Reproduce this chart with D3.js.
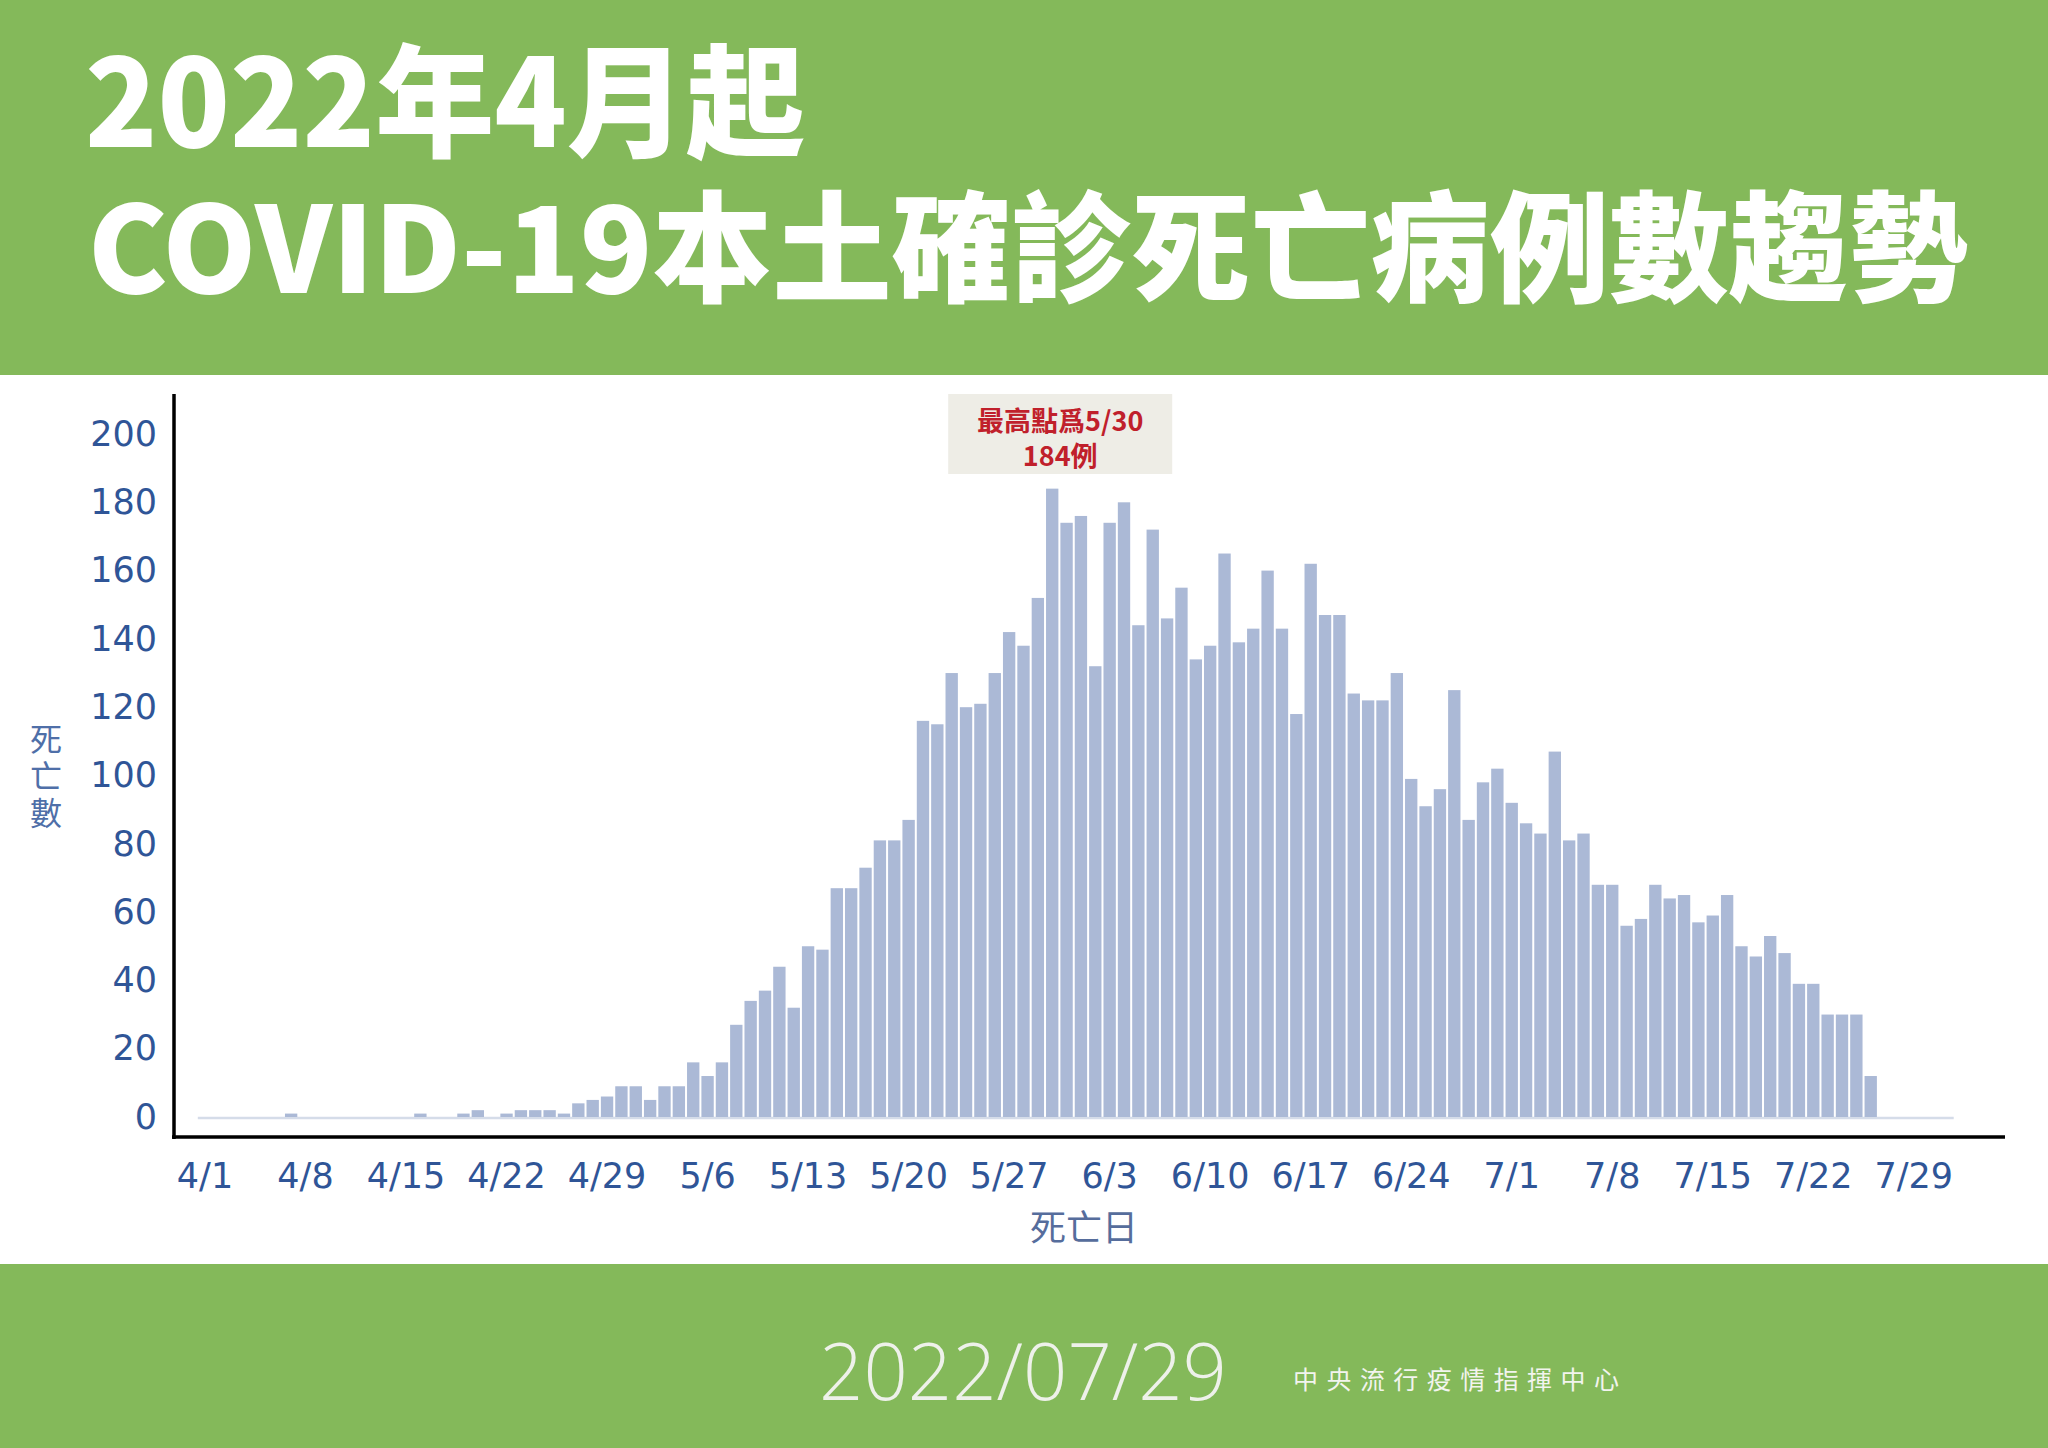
<!DOCTYPE html>
<html><head><meta charset="utf-8">
<script src="https://cdn.jsdelivr.net/npm/d3@7"></script>
<style>html,body{margin:0;padding:0;background:#fff}svg{display:block}</style>
</head><body>
<script>
// ---- data ----
const titleLines = ["2022年4月起", "COVID-19本土確診死亡病例數趨勢"];
const dateStamp = "2022/07/29";
const orgName = "中央流行疫情指揮中心";
const yAxisTitle = "死亡數";
const xAxisTitle = "死亡日";
const annotationLines = ["最高點爲5/30", "184例"];
const peakCategory = "5/30";
const categories = d3.timeDay.range(new Date(2022, 3, 1), new Date(2022, 7, 1))
  .map(d => `${d.getMonth() + 1}/${d.getDate()}`);
const deaths = [
  0,0,0,0,0,0,1,0,0,0,
  0,0,0,0,0,1,0,0,1,2,
  0,1,2,2,2,1,4,5,6,9,
  9,5,9,9,16,12,16,27,34,37,
  44,32,50,49,67,67,73,81,81,87,
  116,115,130,120,121,130,142,138,152,184,
  174,176,132,174,180,144,172,146,155,134,
  138,165,139,143,160,143,118,162,147,147,
  124,122,122,130,99,91,96,125,87,98,
  102,92,86,83,107,81,83,68,68,56,
  58,68,64,65,57,59,65,50,47,53,
  48,39,39,30,30,30,12,0,0,0,
  0,0
];
const yTicks = [0, 20, 40, 60, 80, 100, 120, 140, 160, 180, 200];
const xTickLabels = ["4/1","4/8","4/15","4/22","4/29","5/6","5/13","5/20","5/27","6/3","6/10","6/17","6/24","7/1","7/8","7/15","7/22","7/29"];

// ---- drawing ----
const W = 2048, H = 1448;
const green = "#84b95a";
const svg = d3.select("body").append("svg").attr("width", W).attr("height", H);
svg.append("rect").attr("width", W).attr("height", H).attr("fill", "#fff");

// header band
svg.append("rect").attr("x", 0).attr("y", 0).attr("width", W).attr("height", 375).attr("fill", green);
const titleFont = "'Noto Sans CJK TC','Noto Sans CJK SC',sans-serif";
const title = svg.append("text").attr("font-family", titleFont).attr("font-weight", 900).attr("fill", "#fff");
title.append("tspan").attr("x", 85).attr("y", 147).attr("font-size", 122).text(titleLines[0])
  .attr("textLength", 720).attr("lengthAdjust", "spacingAndGlyphs");
title.append("tspan").attr("x", 88).attr("y", 293).attr("font-size", 120).text(titleLines[1])
  .attr("textLength", 1880).attr("lengthAdjust", "spacingAndGlyphs");

// footer band
svg.append("rect").attr("x", 0).attr("y", 1264).attr("width", W).attr("height", H - 1264).attr("fill", green);
svg.append("text").attr("x", 819).attr("y", 1400).text(dateStamp)
  .attr("font-family", "'Open Sans',sans-serif").attr("font-weight", 300).attr("font-size", 80)
  .attr("fill", "#eef1ea").attr("textLength", 408).attr("lengthAdjust", "spacingAndGlyphs");
svg.append("text").attr("x", 1293).attr("y", 1389).text(orgName)
  .attr("font-family", titleFont).attr("font-weight", 400).attr("font-size", 25)
  .attr("fill", "#f2f4ee").attr("textLength", 326).attr("lengthAdjust", "spacing");

// scales
const x = d3.scaleBand().domain(categories).range([197.8, 1949.7]).paddingInner(0.14).paddingOuter(0.07);
const y = d3.scaleLinear().domain([0, 200]).range([1117, 434]);

// zero baseline (light)
svg.append("line").attr("x1", x.range()[0]).attr("x2", x.range()[1] + 4)
  .attr("y1", y(0) + 1).attr("y2", y(0) + 1).attr("stroke", "#d5dce9").attr("stroke-width", 2.5);

// bars
svg.append("g").selectAll("rect").data(deaths).join("rect")
  .attr("x", (d, i) => x(categories[i]))
  .attr("width", x.bandwidth())
  .attr("y", d => y(d))
  .attr("height", d => y(0) - y(d))
  .attr("fill", "#abb9d6");

// axes labels
const tickFont = "'DejaVu Sans',sans-serif";
const tickColor = "#2f5597";
const yAxisG = svg.append("g").attr("transform", "translate(174,0)")
  .call(d3.axisLeft(y).tickValues(yTicks).tickSize(0).tickPadding(17));
yAxisG.select(".domain").remove();
yAxisG.selectAll("text").attr("font-family", tickFont).attr("font-size", 35).attr("fill", tickColor);

const xAxisG = svg.append("g").attr("transform", "translate(0,1137)")
  .call(d3.axisBottom(x).tickValues(xTickLabels).tickSize(0).tickPadding(26));
xAxisG.select(".domain").remove();
xAxisG.selectAll("text").attr("font-family", tickFont).attr("font-size", 35).attr("fill", tickColor);

// black frame axes
svg.append("line").attr("x1", 174).attr("x2", 174).attr("y1", 394).attr("y2", 1139)
  .attr("stroke", "#000").attr("stroke-width", 3.5);
svg.append("line").attr("x1", 172).attr("x2", 2005).attr("y1", 1137).attr("y2", 1137)
  .attr("stroke", "#000").attr("stroke-width", 3.5);

// axis titles
svg.append("text").attr("x", 46).attr("y", 778)
  .attr("writing-mode", "vertical-rl").attr("text-anchor", "middle")
  .attr("letter-spacing", "5px").text(yAxisTitle)
  .attr("font-family", titleFont).attr("font-size", 32).attr("fill", "#4f6fa8");
svg.append("text").attr("x", 1084).attr("y", 1228).attr("dy", "0.36em")
  .attr("text-anchor", "middle").text(xAxisTitle)
  .attr("font-family", titleFont).attr("font-size", 36).attr("fill", "#566d9c");

// annotation
const px = x(peakCategory) + x.bandwidth() / 2 + 8;
svg.append("rect").attr("x", px - 112).attr("y", y(200) - 40).attr("width", 224).attr("height", 80)
  .attr("fill", "#eeede6");
const ann = svg.append("text").attr("text-anchor", "middle")
  .attr("font-family", titleFont).attr("font-weight", 700).attr("font-size", 27).attr("fill", "#c0202b");
annotationLines.forEach((t, i) => {
  ann.append("tspan").attr("x", px).attr("y", y(200) - 13 + i * 35).attr("dy", "0.36em").text(t);
});
</script>
</body></html>
